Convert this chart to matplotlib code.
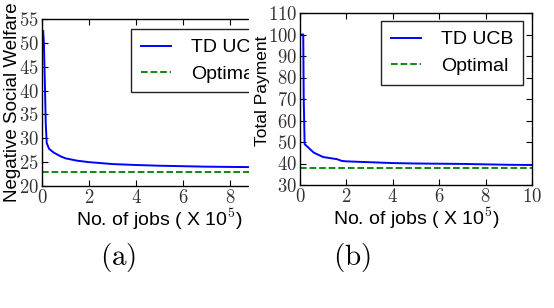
import matplotlib
matplotlib.use("Agg")
import matplotlib.pyplot as plt
from matplotlib.patches import Rectangle
from matplotlib.ticker import FuncFormatter

plt.rcParams['mathtext.fontset'] = 'cm'
plt.rcParams['font.family'] = ['Liberation Sans', 'DejaVu Sans']

# (a) negative social welfare
jobs_a = [0.05, 0.08, 0.12, 0.16, 0.2, 0.3, 0.5, 0.8, 1.0, 1.5, 2.0, 3.0, 4.0, 5.0, 6.0, 7.0, 8.0, 9.0, 10.0]
welfare_td = [52.5, 50.0, 42.0, 33.0, 29.0, 27.8, 27.0, 26.2, 25.8, 25.3, 25.0, 24.6, 24.4, 24.25, 24.15, 24.05, 24.0, 23.95, 23.9]
welfare_opt = 23.0

# (b) total payment
jobs_b = [0.05, 0.14, 0.16, 0.2, 0.4, 0.6, 0.8, 1.0, 1.3, 1.6, 1.8, 2.0, 3.0, 4.0, 5.0, 6.0, 7.0, 8.0, 9.0, 10.0]
payment_td = [100.0, 100.0, 70.0, 49.0, 47.0, 45.0, 44.0, 43.0, 42.5, 42.0, 41.2, 41.0, 40.6, 40.2, 40.0, 39.9, 39.8, 39.6, 39.4, 39.3]
payment_opt = 38.0

series_labels = ['TD UCB', 'Optimal']
x_ticks = [0, 2, 4, 6, 8, 10]
ylim_a = (20, 55)
ylim_b = (30, 110)

W, H = 554, 308
fig = plt.figure(figsize=(W / 100, H / 100), dpi=100)

def px_axes(l, r, t, b):
    return [l / W, 1 - b / H, (r - l) / W, (b - t) / H]

ax1 = fig.add_axes(px_axes(42, 277, 19, 186), zorder=0)
ax2 = fig.add_axes(px_axes(300, 532, 13, 185), zorder=2)

# right panel sits on top of the cut-off left panel
fig.patches.append(Rectangle((249 / W, 0), 1 - 249 / W, 1, transform=fig.transFigure,
                             facecolor='white', edgecolor='none', zorder=1))

fmt = FuncFormatter(lambda v, _: r'$%g$' % v)

def style(ax, ylim, ylabel, ysize):
    ax.set_xlim(0, 10)
    ax.set_ylim(*ylim)
    ax.set_xticks(x_ticks)
    ax.xaxis.set_major_formatter(fmt)
    ax.yaxis.set_major_formatter(fmt)
    ax.tick_params(direction='in', top=True, right=True, length=4, labelsize=13.5,
                   labelcolor='#333333', pad=2)
    for s in ax.spines.values():
        s.set_linewidth(1.0)
    ax.set_xlabel(r'No. of jobs ( X 10$^5$)', fontsize=14, labelpad=0)
    ax.set_ylabel(ylabel, fontsize=ysize, labelpad=-1)

leg_kw = dict(fontsize=14, fancybox=False, edgecolor='#222222', framealpha=1,
              handlelength=1.55, handletextpad=1.05, borderpad=0.5, labelspacing=0.45,
              borderaxespad=0)

ax1.plot(jobs_a, welfare_td, color='b', lw=1.4, label=series_labels[0])
ax1.axhline(welfare_opt, color='g', ls='--', lw=1.3, label=series_labels[1])
style(ax1, ylim_a, 'Negative Social Welfare', 13.5)
ax1.set_yticks(range(20, 56, 5))
ax1.legend(loc='upper left', bbox_to_anchor=(0.379, 0.94), **leg_kw)

ax2.plot(jobs_b, payment_td, color='b', lw=1.4, label=series_labels[0])
ax2.axhline(payment_opt, color='g', ls='--', lw=1.3, label=series_labels[1])
style(ax2, ylim_b, 'Total Payment', 12.5)
ax2.yaxis.set_label_coords(-0.13, 0.55)
ax2.set_yticks(range(30, 111, 10))
ax2.legend(loc='upper left', bbox_to_anchor=(0.349, 0.953), **leg_kw)

fig.text(118 / W, 1 - 258 / H, r'$\mathrm{(a)}$', fontsize=21, ha='center', va='center')
fig.text(352 / W, 1 - 258 / H, r'$\mathrm{(b)}$', fontsize=21, ha='center', va='center')

fig.savefig('out.png', dpi=100)
